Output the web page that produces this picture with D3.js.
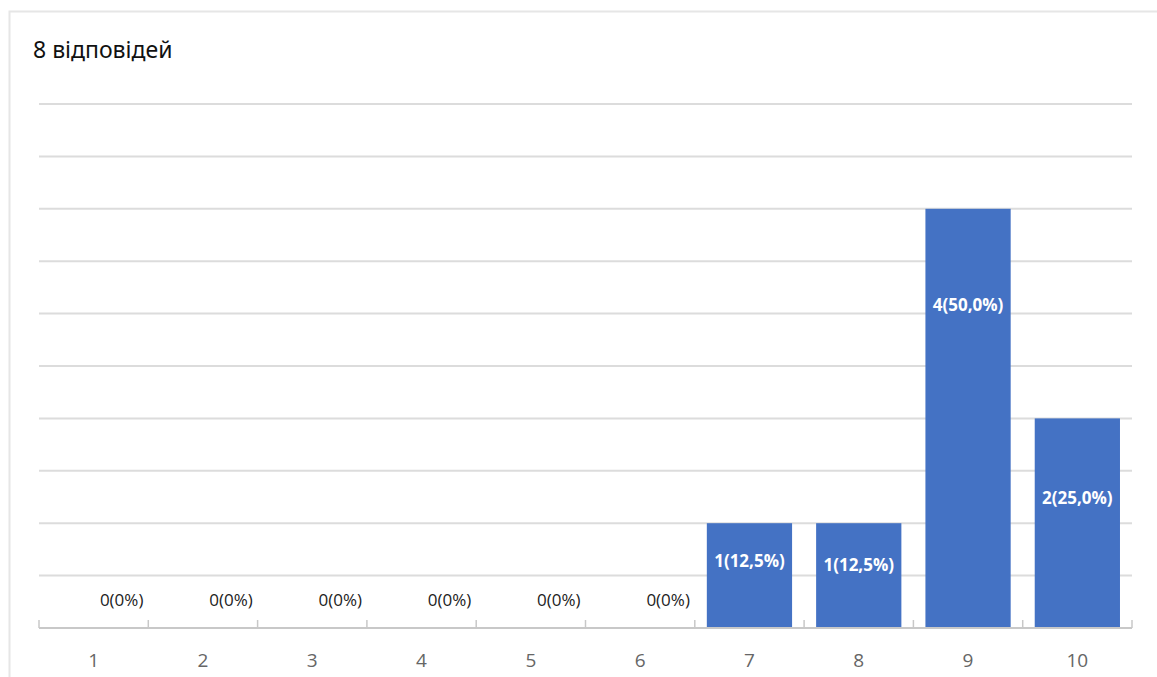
<!DOCTYPE html>
<html>
<head>
<meta charset="utf-8">
<script src="https://cdn.jsdelivr.net/npm/d3@7"></script>
<style>
  html, body { margin: 0; padding: 0; background: #fff; }
  svg { display: block; }
</style>
</head>
<body>
<svg id="chart" width="1157" height="677"></svg>
<script>
// data
const categories = ['1', '2', '3', '4', '5', '6', '7', '8', '9', '10'];
const counts = [0, 0, 0, 0, 0, 0, 1, 1, 4, 2];
const labels = ['0(0%)', '0(0%)', '0(0%)', '0(0%)', '0(0%)', '0(0%)',
  '1(12,5%)', '1(12,5%)', '4(50,0%)', '2(25,0%)'];
const titleText = '8 відповідей';

const svg = d3.select('#chart');

// card border (only top and left show in the shot)
svg.append('rect')
  .attr('x', 9.5).attr('y', 11.5)
  .attr('width', 1200).attr('height', 700)
  .attr('fill', '#fff')
  .attr('stroke', '#e6e6e6').attr('stroke-width', 2);

svg.append('text')
  .attr('x', 33).attr('y', 58)
  .attr('font-family', 'Noto Sans, sans-serif')
  .attr('font-size', 23)
  .attr('fill', '#111')
  .text(titleText);

const x = d3.scaleBand()
  .domain(categories)
  .range([39, 1132])
  .paddingInner(0.22)
  .paddingOuter(0.11);

const y = d3.scaleLinear().domain([0, 5]).range([628, 104]);

// gridlines every 0.5
const grid = d3.range(0.5, 5.01, 0.5);
svg.append('g').selectAll('line')
  .data(grid)
  .join('line')
  .attr('x1', 39).attr('x2', 1132)
  .attr('y1', (d) => y(d)).attr('y2', (d) => y(d))
  .attr('stroke', '#dcdcdc').attr('stroke-width', 2);

// bars
svg.append('g').selectAll('rect')
  .data(counts)
  .join('rect')
  .attr('x', (d, i) => x(categories[i]))
  .attr('y', (d) => y(d))
  .attr('width', x.bandwidth())
  .attr('height', (d) => y(0) - y(d))
  .attr('fill', '#4472c4');

// x axis: baseline with ticks at band edges pointing up
const step = x.step();
const x0 = x.range()[0];
const axisG = svg.append('g');
axisG.append('line')
  .attr('x1', 39).attr('x2', 1132)
  .attr('y1', y(0)).attr('y2', y(0))
  .attr('stroke', '#c8c8c8').attr('stroke-width', 2);
axisG.selectAll('line.tick')
  .data(d3.range(categories.length + 1))
  .join('line')
  .attr('class', 'tick')
  .attr('x1', (i) => x0 + i * step).attr('x2', (i) => x0 + i * step)
  .attr('y1', y(0) - 8).attr('y2', y(0))
  .attr('stroke', '#c8c8c8').attr('stroke-width', 1.5);
axisG.selectAll('text')
  .data(categories)
  .join('text')
  .attr('x', (d) => x(d) + x.bandwidth() / 2)
  .attr('y', 667)
  .attr('text-anchor', 'middle')
  .attr('font-family', 'Open Sans, sans-serif')
  .attr('font-size', 19)
  .attr('fill', '#666')
  .text((d) => d);

// value labels: zero ones sit above the baseline, others inside the bar
const labelNudge = [0.36, 0.36, 0.36, 0.36, 0.36, 0.36, 0.36, 0.40, 0.23, 0.38];
svg.append('g').selectAll('text')
  .data(counts)
  .join('text')
  .attr('x', (d, i) => x(categories[i]) + x.bandwidth() / 2 + (d === 0 ? 28 : 0))
  .attr('y', (d, i) => d === 0
    ? y(0) - 22
    : y(d) + (y(0) - y(d)) * labelNudge[i] + 6)
  .attr('text-anchor', 'middle')
  .attr('font-family', 'Open Sans, sans-serif')
  .attr('font-size', 17)
  .attr('font-weight', (d) => (d === 0 ? 'normal' : 'bold'))
  .attr('fill', (d) => (d === 0 ? '#222' : '#fff'))
  .text((d, i) => labels[i]);
</script>
</body>
</html>
